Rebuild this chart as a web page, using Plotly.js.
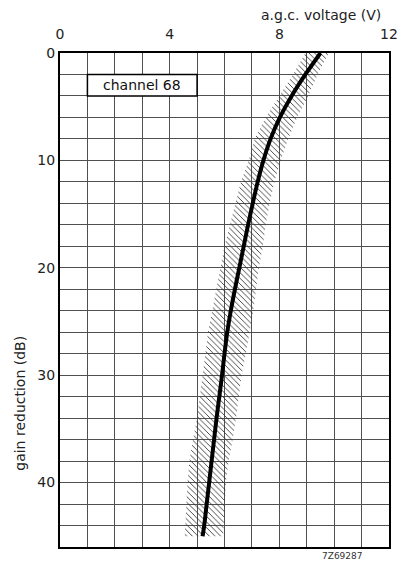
<!DOCTYPE html>
<html>
<head>
<meta charset="utf-8">
<script src="https://cdn.plot.ly/plotly-3.0.1.min.js"></script>
<style>html,body{margin:0;padding:0;background:#fff}#chart{width:404px;height:562px}</style>
</head>
<body>
<div id="chart"></div>
<script>
// gain reduction (dB) sample levels
const gainReduction = [0, 2, 4, 6, 8, 10, 12, 14, 16, 18, 20, 22, 24, 26, 28, 30, 32, 34, 36, 38, 40, 42, 44, 45];
// a.g.c. voltage (V) — typical curve
const agcTypical = [9.5, 8.95, 8.45, 8.02, 7.68, 7.42, 7.21, 7.03, 6.86, 6.7, 6.54, 6.38, 6.23, 6.1, 6.0, 5.91, 5.81, 5.71, 5.62, 5.53, 5.44, 5.35, 5.26, 5.2];
// spread band edges (V)
const agcLower = [8.95, 8.5, 8.0, 7.5, 7.1, 6.88, 6.6, 6.4, 6.2, 6.0, 5.85, 5.7, 5.55, 5.4, 5.3, 5.2, 5.1, 5.0, 4.85, 4.72, 4.65, 4.6, 4.55, 4.55];
const agcUpper = [9.8, 9.4, 9.05, 8.65, 8.32, 8.05, 7.82, 7.65, 7.5, 7.4, 7.25, 7.15, 7.05, 6.92, 6.78, 6.62, 6.52, 6.42, 6.3, 6.15, 6.05, 6.0, 5.97, 5.95];
const xTickVals = [0, 4, 8, 12];
const yTickVals = [0, 10, 20, 30, 40];

const bandX = agcLower.concat(agcUpper.slice().reverse());
const bandY = gainReduction.concat(gainReduction.slice().reverse());

const FONT = 'DejaVu Sans, Verdana, sans-serif';
const GRID = '#505050';

const traces = [
  {
    x: bandX, y: bandY, type: 'scatter', mode: 'lines',
    fill: 'toself', fillcolor: 'rgba(0,0,0,0)',
    fillpattern: {shape: '\\', fgcolor: '#333', bgcolor: 'rgba(0,0,0,0)', size: 4, solidity: 0.22},
    line: {width: 0, color: 'rgba(0,0,0,0)'},
    hoverinfo: 'skip', showlegend: false
  },
  {
    x: agcTypical, y: gainReduction, type: 'scatter', mode: 'lines',
    line: {color: '#000', width: 4, shape: 'spline', smoothing: 0.8},
    showlegend: false
  }
];

const layout = {
  width: 404, height: 562,
  margin: {l: 60, r: 15, t: 53, b: 15},
  paper_bgcolor: '#fff', plot_bgcolor: '#fff',
  font: {family: FONT, size: 14, color: '#222'},
  xaxis: {
    side: 'top', range: [0, 12], tickvals: xTickVals, ticktext: xTickVals.map(String),
    showgrid: true, gridcolor: GRID, gridwidth: 1,
    minor: {dtick: 1, tick0: 0, showgrid: true, gridcolor: GRID, gridwidth: 1},
    zeroline: false, showline: true, mirror: true, linecolor: '#000', linewidth: 2,
    ticks: '', ticklabelstandoff: 6, tickfont: {size: 14, color: '#222', family: FONT}, fixedrange: true
  },
  yaxis: {
    range: [46, 0], tickvals: yTickVals, ticktext: yTickVals.map(String),
    showgrid: true, gridcolor: GRID, gridwidth: 1,
    minor: {dtick: 2, tick0: 0, showgrid: true, gridcolor: GRID, gridwidth: 1},
    zeroline: false, showline: true, mirror: true, linecolor: '#000', linewidth: 2,
    ticks: '', tickfont: {size: 14, color: '#222', family: FONT}, fixedrange: true
  },
  shapes: [
    {type: 'rect', xref: 'x', yref: 'y', x0: 1, x1: 5, y0: 2, y1: 4,
     fillcolor: '#fff', line: {color: '#000', width: 1.5}, layer: 'above'}
  ],
  annotations: [
    {text: 'channel 68', xref: 'x', yref: 'y', x: 3, y: 3, showarrow: false,
     font: {size: 14, color: '#111', family: FONT}},
    {text: 'a.g.c. voltage (V)', xref: 'paper', yref: 'paper', x: 1, y: 1,
     xanchor: 'right', yanchor: 'bottom', yshift: 28, xshift: -6, showarrow: false,
     font: {size: 14, color: '#222', family: FONT}},
    {text: 'gain reduction (dB)', xref: 'paper', yref: 'paper', x: 0, y: 0.29,
     xanchor: 'center', yanchor: 'middle', xshift: -40, textangle: -90, showarrow: false,
     font: {size: 14, color: '#222', family: FONT}},
    {text: '7Z69287', xref: 'paper', yref: 'paper', x: 0.86, y: 0,
     xanchor: 'center', yanchor: 'top', yshift: -2, showarrow: false,
     font: {size: 9, color: '#333', family: FONT}}
  ]
};

Plotly.newPlot('chart', traces, layout, {staticPlot: true, displayModeBar: false});
</script>
</body>
</html>
